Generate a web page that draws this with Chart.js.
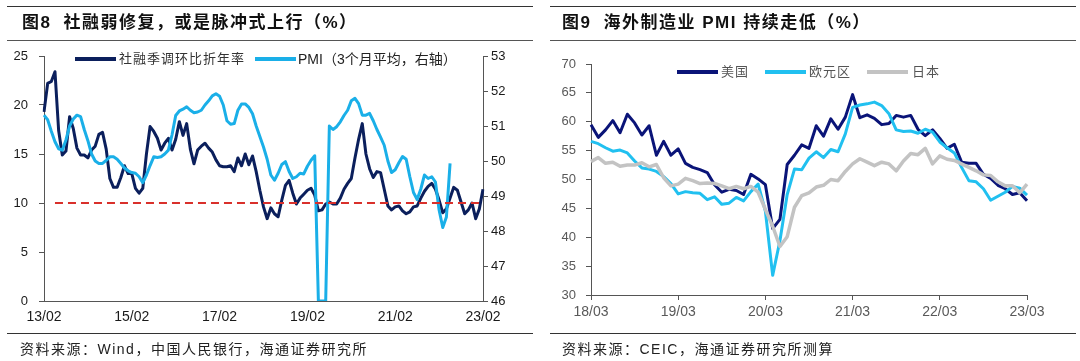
<!DOCTYPE html>
<html><head><meta charset="utf-8">
<script src="https://cdn.jsdelivr.net/npm/chart.js@4.4.0/dist/chart.umd.min.js"></script>
<style>
html,body{margin:0;padding:0;background:#fff;}
body{width:1080px;height:361px;overflow:hidden;position:relative;font-family:"Liberation Sans","Noto Sans CJK SC",sans-serif;color:#1a1a1a;}
.rule{position:absolute;height:0;}
.title{position:absolute;top:12px;font-size:17px;font-weight:bold;line-height:22px;white-space:nowrap;color:#111;letter-spacing:1.5px;}
.src{position:absolute;top:340px;font-size:14px;line-height:18px;white-space:nowrap;color:#222;letter-spacing:1.5px;}
.leg{position:absolute;height:4px;}
.legt{position:absolute;font-size:13px;line-height:16px;white-space:nowrap;}
canvas{position:absolute;top:0;}
</style>
</head><body>
<canvas id="c1" width="540" height="361" style="left:0"></canvas>
<canvas id="c2" width="540" height="361" style="left:540px"></canvas>

<div class="rule" style="left:7px;width:526px;top:6px;border-top:1px solid #333"></div>
<div class="rule" style="left:7px;width:526px;top:40px;border-top:1.5px solid #555"></div>
<div class="rule" style="left:7px;width:526px;top:333px;border-top:1px solid #333"></div>
<div class="title" style="left:22px">图8<span style="display:inline-block;width:12px"></span>社融弱修复，或是脉冲式上行（%）</div>
<div class="src" style="left:20px">资料来源：Wind，中国人民银行，海通证券研究所</div>

<div class="rule" style="left:550px;width:526px;top:6px;border-top:1px solid #333"></div>
<div class="rule" style="left:550px;width:526px;top:40px;border-top:1.5px solid #555"></div>
<div class="rule" style="left:550px;width:526px;top:333px;border-top:1px solid #333"></div>
<div class="title" style="left:562px">图9<span style="display:inline-block;width:12px"></span>海外制造业 PMI 持续走低（%）</div>
<div class="src" style="left:562px">资料来源：CEIC，海通证券研究所测算</div>

<div class="leg" style="left:75px;top:57px;width:41px;background:#0b1f5c"></div>
<div class="legt" style="left:119px;top:51px;letter-spacing:1px;color:#333">社融季调环比折年率</div>
<div class="leg" style="left:255px;top:57px;width:41px;background:#1aafe8"></div>
<div class="legt" style="left:298px;top:51px;font-size:14px;color:#222">PMI（3个月平均，右轴）</div>

<div class="leg" style="left:677px;top:70px;width:41px;background:#0a1478"></div>
<div class="legt" style="left:721px;top:64px;letter-spacing:1px;color:#555">美国</div>
<div class="leg" style="left:765px;top:70px;width:41px;background:#21c0f0"></div>
<div class="legt" style="left:809px;top:64px;letter-spacing:1px;color:#555">欧元区</div>
<div class="leg" style="left:867px;top:70px;width:41px;background:#c3c3c3"></div>
<div class="legt" style="left:912px;top:64px;letter-spacing:1px;color:#555">日本</div>

<script>
// ---------- Chart 8 data (monthly, 2013-02 .. 2023-02) ----------
const leftStart = [2013, 2];
const leftTickLabels = ['13/02','15/02','17/02','19/02','21/02','23/02'];
const tsfRate = [
 19.3,22.2,22.4,23.4,17.4,14.9,15.3,18.8,17.6,15.6,
 14.9,14.9,14.6,15.4,15.8,17.0,17.2,15.5,12.5,11.6,
 11.6,12.6,13.8,13.0,13.0,11.5,11.0,11.5,15.0,17.8,
 17.3,16.6,15.4,16.1,16.6,15.4,16.5,18.3,16.9,18.1,
 15.5,14.0,15.4,15.8,16.1,15.6,15.2,14.4,13.8,13.7,
 13.7,13.8,13.2,14.6,13.8,15.0,13.9,14.8,13.2,11.3,
 9.6,8.4,9.5,8.9,8.6,10.3,11.8,12.3,11.0,9.9,
 10.5,10.9,11.3,11.5,10.8,9.2,9.3,9.9,10.1,9.9,
 9.9,10.5,11.4,12.0,12.5,14.6,16.5,18.1,15.0,13.5,
 12.6,13.2,13.1,11.4,9.7,9.3,9.6,9.7,9.2,8.9,
 9.1,9.6,9.7,10.5,11.2,11.7,12.0,11.4,10.3,9.0,
 9.4,10.5,11.6,11.3,10.1,8.9,9.3,10.0,8.4,9.4,
 11.4
];
const pmiAvg = [
 51.31,51.18,50.85,50.55,50.35,50.31,50.6,51.0,51.2,51.31,
 51.27,50.9,50.58,50.2,50.0,49.93,49.93,50.02,50.12,50.12,
 50.05,49.93,49.8,49.72,49.67,49.65,49.55,49.38,49.6,49.87,
 50.12,50.1,50.12,50.2,50.31,50.75,51.3,51.43,51.48,51.55,
 51.45,51.38,51.4,51.45,51.6,51.72,51.86,51.92,51.85,51.6,
 51.15,51.05,51.07,51.45,51.63,51.63,51.53,51.35,51.0,50.7,
 50.4,50.05,49.6,49.45,49.65,49.9,49.98,49.7,49.5,49.55,
 49.65,49.63,49.85,50.02,50.15,46,46,46,51.0,50.9,
 50.98,51.12,51.3,51.45,51.72,51.79,51.64,51.31,51.31,51.36,
 51.15,50.9,50.68,50.45,50.0,49.67,49.75,49.95,50.13,50.05,
 49.55,49.1,48.9,49.2,49.6,49.5,49.55,49.4,48.6,48.1,
 48.4,49.93
];
const refLevel = 10;      // red dashed reference line (left axis)
const refStartIndex = 3;  // reference line begins at 13/05

// ---------- Chart 9 data (monthly, 2018-03 .. 2023-03) ----------
const rightStart = [2018, 3];
const rightTickLabels = ['18/03','19/03','20/03','21/03','22/03','23/03'];
const usPMI = [
 59.5,57.3,58.6,60.2,58.1,61.3,59.8,57.7,59.3,54.2,
 56.6,54.2,55.3,52.8,52.1,51.7,51.2,49.1,47.8,48.3,
 48.1,47.4,50.9,50.1,49.1,41.5,43.1,52.6,54.2,56.0,
 55.4,59.3,57.5,60.5,58.7,60.8,64.7,60.7,61.2,60.6,
 59.5,59.7,61.1,60.8,61.1,58.7,57.6,58.6,57.1,55.4,
 56.1,53.0,52.8,52.8,50.9,50.2,49.0,48.4,47.4,47.7,
 46.3
];
const euroPMI = [
 56.6,56.2,55.5,54.9,55.1,54.6,53.2,52.0,51.8,51.4,
 50.5,49.3,47.5,47.9,47.7,47.6,46.5,47.0,45.7,45.9,
 46.9,46.3,47.9,49.2,44.5,33.4,39.4,47.4,51.8,51.7,
 53.7,54.8,53.8,55.2,54.8,57.9,62.5,62.9,63.1,63.4,
 62.8,61.4,58.6,58.3,58.4,58.0,58.7,58.2,56.5,55.5,
 54.6,52.1,49.8,49.6,48.4,46.4,47.1,47.8,48.8,48.5,
 47.3
];
const japanPMI = [
 53.1,53.8,52.8,53.0,52.3,52.5,52.5,52.9,52.2,52.6,
 50.3,48.9,49.2,50.2,49.8,49.3,49.4,49.3,48.9,48.4,
 48.8,48.4,48.8,47.8,44.8,41.9,38.4,40.1,45.2,47.2,
 47.7,48.7,49.0,50.0,49.8,51.4,52.7,53.6,53.0,52.4,
 53.0,52.7,51.5,53.2,54.5,54.3,55.4,52.7,54.1,53.5,
 53.3,52.7,52.1,51.5,50.8,50.7,49.6,48.9,48.9,47.7,
 49.2
];

function monthLabels(start, n){
  const out=[]; let y=start[0], m=start[1];
  for(let i=0;i<n;i++){ out.push(String(y%100).padStart(2,'0')+'/'+String(m).padStart(2,'0')); m++; if(m>12){m=1;y++;} }
  return out;
}
const leftMonths = monthLabels(leftStart, tsfRate.length);
const rightMonths = monthLabels(rightStart, usPMI.length);
const refLine = leftMonths.map((_, i) => i >= refStartIndex ? refLevel : null);

const axisCol = '#555';
const numFont = {family:'"Liberation Sans", Arial, sans-serif', size:13};
const xFont = {family:'"Liberation Sans", Arial, sans-serif', size:14};

new Chart(document.getElementById('c1'), {
  type:'line',
  data:{labels:leftMonths, datasets:[
    {label:'社融季调环比折年率', data:tsfRate, borderColor:'#0b1f5c', borderWidth:3, yAxisID:'y', order:3},
    {label:'PMI（3个月平均，右轴）', data:pmiAvg, borderColor:'#1aafe8', borderWidth:3, yAxisID:'y1', order:2},
    {label:'10', data:refLine, borderColor:'#d9302b', borderWidth:2, borderDash:[8,5], borderCapStyle:'butt', yAxisID:'y', order:1}
  ]},
  options:{
    responsive:false, animation:false, events:[],
    layout:{padding:{top:56,bottom:30,left:0,right:0}},
    plugins:{legend:{display:false}, tooltip:{enabled:false}},
    elements:{point:{radius:0}, line:{tension:0, borderJoinStyle:'round'}},
    scales:{
      x:{
        grid:{display:false, drawTicks:false},
        border:{display:true, color:axisCol, width:1},
        ticks:{autoSkip:false, maxRotation:0, minRotation:0, padding:8, color:'#1a1a1a', font:xFont,
          callback:function(v){ const l=this.getLabelForValue(v); return leftTickLabels.includes(l)? l : ''; }},
        afterFit:s=>{s.height=30;}
      },
      y:{
        position:'left', min:0, max:25,
        ticks:{stepSize:5, padding:11, color:'#1a1a1a', font:numFont},
        grid:{drawOnChartArea:false, drawTicks:true, tickLength:5, color:axisCol, tickColor:axisCol},
        border:{display:true, color:axisCol, width:1},
        afterFit:s=>{s.width=44;}
      },
      y1:{
        position:'right', min:46, max:53,
        ticks:{stepSize:1, padding:3, color:'#1a1a1a', font:numFont},
        grid:{drawOnChartArea:false, drawTicks:true, tickLength:5, color:axisCol, tickColor:axisCol},
        border:{display:true, color:axisCol, width:1},
        afterFit:s=>{s.width=57;}
      }
    }
  }
});

new Chart(document.getElementById('c2'), {
  type:'line',
  data:{labels:rightMonths, datasets:[
    {label:'美国', data:usPMI, borderColor:'#0a1478', borderWidth:3, order:3},
    {label:'欧元区', data:euroPMI, borderColor:'#21c0f0', borderWidth:3, order:2},
    {label:'日本', data:japanPMI, borderColor:'#c3c3c3', borderWidth:3.5, order:1}
  ]},
  options:{
    responsive:false, animation:false, events:[],
    layout:{padding:{top:64,bottom:36,left:0,right:53}},
    plugins:{legend:{display:false}, tooltip:{enabled:false}},
    elements:{point:{radius:0}, line:{tension:0, borderJoinStyle:'round'}},
    scales:{
      x:{
        grid:{display:true, drawOnChartArea:false, drawTicks:true, tickLength:5,
          tickColor:ctx=> (ctx.tick && ctx.tick.label) ? axisCol : 'rgba(0,0,0,0)', color:'rgba(0,0,0,0)'},
        border:{display:true, color:axisCol, width:1},
        ticks:{autoSkip:false, maxRotation:0, minRotation:0, padding:4, color:'#595959', font:xFont,
          callback:function(v){ const l=this.getLabelForValue(v); return rightTickLabels.includes(l)? l : ''; }},
        afterFit:s=>{s.height=30;}
      },
      y:{
        min:30, max:70,
        ticks:{stepSize:5, padding:10, color:'#595959', font:numFont},
        grid:{drawOnChartArea:false, drawTicks:true, tickLength:5, color:axisCol, tickColor:axisCol},
        border:{display:true, color:axisCol, width:1},
        afterFit:s=>{s.width=51;}
      }
    }
  }
});
</script>
</body></html>
